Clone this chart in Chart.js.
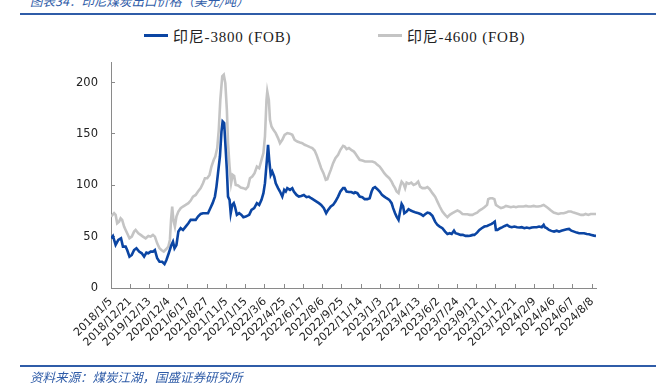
<!DOCTYPE html>
<html>
<head>
<meta charset="utf-8">
<script src="https://cdn.jsdelivr.net/npm/chart.js@4/dist/chart.umd.min.js"></script>
<style>
  html, body { margin: 0; padding: 0; background: #fff; }
  #wrap { position: relative; width: 656px; height: 390px; overflow: hidden; }
  #c { position: absolute; left: 0; top: 0; }
  .rule { position: absolute; left: 20px; width: 636px; height: 2px; background: #2f5ca8; }
  .note { position: absolute; left: 30px; font-family: "Noto Sans CJK SC", sans-serif; font-style: italic; font-size: 12.5px; color: #2f5ca8; white-space: nowrap; }
  .leg { position: absolute; top: 24px; height: 22px; display: flex; align-items: center; font-family: "Liberation Serif", "Noto Sans CJK SC", serif; font-size: 15px; color: #222; white-space: nowrap; letter-spacing: 0.8px; }
  .leg i { display: inline-block; width: 24px; height: 3px; margin-right: 5px; }
</style>
</head>
<body>
<div id="wrap">
  <div class="note" style="top:-9px;">图表34：印尼煤炭出口价格（美元/吨）</div>
  <div class="rule" style="top:13px;"></div>
  <div id="legend"></div>
  <canvas id="c" width="656" height="390"></canvas>
  <div class="rule" style="top:365px;"></div>
  <div class="note" style="top:367px;">资料来源：煤炭江湖，国盛证券研究所</div>
</div>
<script>
// ---- data ----
const seriesNames = ['印尼-3800 (FOB)', '印尼-4600 (FOB)'];
const seriesColors = ['#0b45a3', '#c4c4c4'];

const dateLabels = ['2018/1/5','2018/12/21','2019/12/13','2020/12/4','2021/6/17','2021/8/27','2021/11/5','2022/1/15','2022/3/6','2022/4/25','2022/6/17','2022/8/6','2022/9/25','2022/11/14','2023/1/3','2023/2/22','2023/4/13','2023/6/2','2023/7/24','2023/9/12','2023/11/1','2023/12/21','2024/2/9','2024/4/6','2024/6/7','2024/8/8'];
const labelStep = 50;     // observations between labelled dates
const lastObs = 1260;     // index of last observation

const obs3800 = [0,5,12,19,26,31,38,42,48,54,60,66,73,80,86,92,97,103,109,114,120,126,133,139,144,150,157,161,165,170,175,181,187,194,201,207,214,220,226,233,239,245,252,258,264,270,274,278,283,287,290,294,297,301,304,308,311,315,319,322,327,333,339,344,350,359,365,372,379,385,391,396,400,405,408,411,415,419,424,428,434,439,445,450,454,458,465,471,475,482,488,494,501,508,514,520,527,534,540,546,553,559,564,571,577,583,590,596,603,607,612,618,624,631,634,640,646,653,659,666,672,677,681,686,692,698,704,710,716,723,729,733,738,742,747,751,755,759,762,768,773,779,785,792,799,805,811,816,822,828,835,842,848,854,861,868,874,880,885,891,895,902,908,914,921,928,934,940,944,951,957,963,970,977,983,989,994,997,1000,1004,1011,1017,1023,1029,1035,1041,1048,1055,1061,1067,1074,1080,1087,1093,1099,1106,1112,1119,1124,1127,1132,1138,1144,1151,1158,1164,1170,1177,1184,1190,1196,1203,1210,1216,1222,1229,1236,1242,1248,1255,1260];
const price3800 = [48.4,50.7,41.9,46.8,48.4,40.3,40.3,37,30.5,32.2,37,38.7,35.4,33.8,30.5,34.4,33.8,35.4,35.4,37,28.9,25.6,25.6,23.4,27.3,33.8,41.9,45.1,38.7,41.9,54.9,58.2,56.5,59.8,63,66.3,66.3,66.3,69.5,72.1,72.8,72.8,72.8,77.7,82.6,89,98.7,111.8,128,152.3,162.1,160.5,141,115,89,85.8,72.8,80.9,82.6,79.3,71.2,72.8,71.2,68.9,69.5,71.2,76,77.7,82.6,80.9,85.8,92.3,102,124.8,139.4,124.8,110.1,113.4,108.5,102,97.2,93.9,89,95.5,93.9,97.2,95.5,97.2,93.9,90.6,89,89.6,90.6,88.4,89,87.4,85.8,84.1,82.6,80.9,77.7,72.8,76,79.3,80.9,84.1,89,93.9,97.2,97.2,93.9,93.5,93.5,92.3,93.2,92.3,89,88.4,86.5,86.5,87.4,93.9,97.2,98.2,96.2,93.9,90.6,89,87.4,85.8,82.6,77.7,72.8,69.5,66.3,74.4,81.9,79.3,72.8,74.4,76.7,75.4,74.4,73.4,72.8,71.8,70.2,71.8,73.4,72.8,70.2,64.6,61.4,59.8,58.2,54.9,52.6,53.3,52.6,55.8,53.3,52.6,51.7,51.7,50.7,50.7,51,51.7,51.7,53.9,56.5,58.2,59.8,60.4,61.4,62.4,63.7,64.6,56.5,56.5,58.2,59.2,60.4,61.4,59.8,59.2,59.8,59.2,58.9,59.2,58.2,58.9,58.2,58.9,59.2,59.2,59.8,59.2,61.4,59.2,58.2,56.5,55.6,54.9,55.8,54.9,55.8,56.5,57.2,57.5,55.8,54.9,53.9,53.3,53.3,53.3,52.6,52.3,51.7,51,50.7];

const obs4600 = [0,8,12,16,21,25,29,34,38,42,48,54,60,64,71,77,83,90,97,103,109,114,120,126,131,137,143,149,153,156,159,162,166,170,175,181,187,194,201,207,213,220,226,233,239,244,250,256,261,267,271,276,280,284,289,293,297,301,304,308,312,316,320,324,330,337,344,350,356,361,367,373,379,385,391,396,400,404,406,410,413,417,422,428,434,439,445,451,458,465,471,477,484,491,497,503,510,517,523,529,534,540,546,552,558,562,566,571,577,583,590,596,603,607,612,618,624,631,634,640,646,653,660,666,672,679,686,692,698,704,710,716,723,729,733,738,742,747,751,755,760,764,768,774,780,786,792,798,803,809,816,822,828,835,842,848,854,861,868,874,880,887,894,900,906,913,920,926,932,939,944,951,957,963,970,977,980,985,991,996,1000,1006,1013,1020,1026,1032,1039,1046,1052,1058,1065,1072,1078,1084,1091,1098,1104,1110,1117,1124,1130,1136,1143,1150,1156,1162,1169,1176,1182,1188,1195,1202,1208,1214,1221,1227,1233,1240,1246,1253,1260];
const price4600 = [69.5,72.8,71.2,63,64.6,67.9,66.3,59.8,56.5,53.3,48.4,50,54.9,56.5,53.3,51.7,50,48.4,50.7,50,51.7,50,43.5,38.7,37,35.4,37.7,40.3,46.8,66.3,79.3,66.3,59.8,69.5,74.4,77.7,79.3,80.9,82.6,85.1,89,90.6,93.9,97.2,102,106.9,106.9,110.1,118.2,124.8,128,136.2,154,183.2,206,207.6,199.5,173.5,141,118.2,102,110.1,109,100.4,99.8,97.8,97.2,96.2,98.7,106.9,108.5,111.8,118.2,116.6,124.8,131.3,147.5,183.2,191.3,183.2,163.7,157.2,154,150.8,145.9,141,144.2,149.1,150.8,150.2,149.1,144.2,142.6,141.7,141,139.4,138.4,137.1,136.2,133.8,129.6,123.1,116.6,111.8,105.3,105.9,110.1,115,121.5,126.4,129.6,134.5,138.4,137.7,135.2,136.2,134.5,132.8,131.3,128,124.8,124.1,123.1,123.1,123.1,123.1,122.1,119.9,118.2,115,111.8,109.2,106.9,103.6,100.4,97.2,93.9,92.3,98.7,103.6,101.4,97.2,102.6,101.4,102.6,100.4,101.4,103.6,98.7,97.2,97.2,98.2,96.2,92.3,89,84.1,79.3,74.4,71.2,68.9,71.2,72.8,74.4,75.4,74.4,72.1,71.8,71.8,71.2,71.2,72.1,73.4,75.4,76.7,78.6,80.9,86.5,87.4,87.4,86.5,80.9,79.3,77.7,78.6,79.9,79.3,78.6,79.3,78.6,79.3,79.3,79.3,79.9,79.3,79.3,79.9,79.3,79.3,79.9,80.9,79.3,77.7,75.4,73.4,72.8,72.1,72.8,72.8,73.4,74.4,74.4,73.4,72.8,72.1,71.2,71.2,72.1,71.2,72.1,72.1,72.1];

const yMin = 0, yMax = 220, yStep = 50;

// ---- legend (HTML) ----
const legendPos = [144, 378];
const legendEl = document.getElementById('legend');
seriesNames.forEach((n, i) => {
  const d = document.createElement('div');
  d.className = 'leg';
  d.style.left = legendPos[i] + 'px';
  d.innerHTML = '<i style="background:' + seriesColors[i] + '"></i><span></span>';
  d.querySelector('span').textContent = n;
  legendEl.appendChild(d);
});

// ---- chart ----
const axisGrey = '#8a8a8a';
const tickFont = { family: 'DejaVu Sans', size: 11 };

new Chart(document.getElementById('c'), {
  type: 'line',
  data: {
    datasets: [
      { label: seriesNames[0], data: obs3800.map((x, i) => ({ x, y: price3800[i] })),
        borderColor: seriesColors[0], borderWidth: 2.6, pointRadius: 0, tension: 0, order: 1 },
      { label: seriesNames[1], data: obs4600.map((x, i) => ({ x, y: price4600[i] })),
        borderColor: seriesColors[1], borderWidth: 2.6, pointRadius: 0, tension: 0, order: 2 }
    ]
  },
  options: {
    responsive: false,
    animation: false,
    layout: { padding: { top: 62, right: 60, left: 0, bottom: 0 } },
    plugins: { legend: { display: false }, tooltip: { enabled: false } },
    scales: {
      x: {
        type: 'linear', min: 0, max: lastObs,
        afterBuildTicks: s => { s.ticks = dateLabels.map((_, i) => ({ value: i * labelStep })); },
        afterFit: s => { s.height = 102; },
        ticks: { autoSkip: false, minRotation: 45, maxRotation: 45, padding: 11,
          callback: v => dateLabels[Math.round(v / labelStep)], font: tickFont, color: '#222' },
        grid: { drawOnChartArea: false, drawTicks: true, tickLength: -4, color: axisGrey },
        border: { display: true, color: axisGrey, width: 1 }
      },
      y: {
        min: yMin, max: yMax,
        afterFit: s => { s.width = 111; },
        ticks: { stepSize: yStep, includeBounds: false, padding: 17, font: { family: 'DejaVu Sans', size: 11.5 }, color: '#222' },
        grid: { drawOnChartArea: false, drawTicks: true, tickLength: -4, color: axisGrey },
        border: { display: true, color: axisGrey, width: 1 }
      }
    }
  }
});
</script>
</body>
</html>
